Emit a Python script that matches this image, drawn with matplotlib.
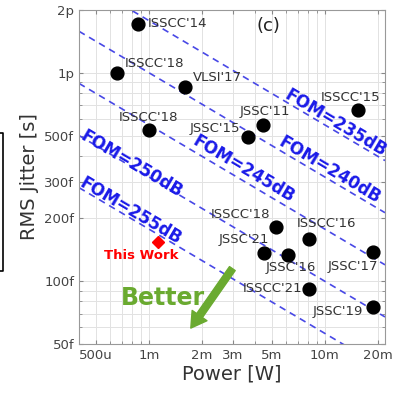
import numpy as np
import matplotlib
matplotlib.use("Agg")
import matplotlib.pyplot as plt
from matplotlib.ticker import NullFormatter, LogLocator
from matplotlib.lines import Line2D

# prior work: label, power [W], rms jitter [s]
names = ["ISSCC'14", "ISSCC'18", "VLSI'17", "ISSCC'18", "JSSC'15", "JSSC'11", "ISSCC'15",
         "ISSCC'18", "ISSCC'16", "JSSC'21", "JSSC'16", "JSSC'17", "ISSCC'21", "JSSC'19"]
power = [0.87e-3, 0.66e-3, 1.6e-3, 1.0e-3, 3.67e-3, 4.47e-3, 15.4e-3,
         5.3e-3, 8.1e-3, 4.5e-3, 6.2e-3, 18.7e-3, 8.1e-3, 18.7e-3]
jitter = [1.72e-12, 1.0e-12, 0.857e-12, 0.534e-12, 0.494e-12, 0.564e-12, 0.665e-12,
          183e-15, 159e-15, 136e-15, 133e-15, 138e-15, 91.6e-15, 75e-15]
# label offsets in pixels and alignment
offs = [(9, 0, "left"), (8, 9, "left"), (8, 9, "left"), (0, 12, "center"), (-8, 8, "right"),
        (2, 13, "center"), (-7, 12, "center"), (-6, 12, "right"), (18, 16, "center"),
        (-20, 14, "center"), (3, -12, "center"), (-20, -14, "center"), (-6, 1, "right"),
        (-10, -4, "right")]

this_power = 1.12e-3
this_jitter = 155e-15

fom_levels = [235, 240, 245, 250, 255]
fom_text_pos = [(11.5e-3, 5.76e-13), (10.7e-3, 3.40e-13), (3.44e-3, 3.47e-13),
                (0.80e-3, 3.65e-13), (0.79e-3, 2.17e-13)]

xticks = [500e-6, 1e-3, 2e-3, 3e-3, 5e-3, 10e-3, 20e-3]
xlabels = ["500u", "1m", "2m", "3m", "5m", "10m", "20m"]
yticks = [50e-15, 100e-15, 200e-15, 300e-15, 500e-15, 1e-12, 2e-12]
ylabels = ["50f", "100f", "200f", "300f", "500f", "1p", "2p"]

xlim = (0.4e-3, 22e-3)
ylim = (50e-15, 2e-12)

fig = plt.figure(figsize=(3.93, 3.93), dpi=100)
ax = fig.add_axes([79/393, 1-344/393, (385-79)/393, (344-10)/393])
ax.set_xscale("log")
ax.set_yscale("log")
ax.set_xlim(*xlim)
ax.set_ylim(*ylim)

ax.xaxis.set_minor_locator(LogLocator(base=10, subs=np.arange(2, 10)))
ax.yaxis.set_minor_locator(LogLocator(base=10, subs=np.arange(2, 10)))
ax.set_xticks(xticks)
ax.set_xticklabels(xlabels)
ax.set_yticks(yticks)
ax.set_yticklabels(ylabels)
ax.xaxis.set_minor_formatter(NullFormatter())
ax.yaxis.set_minor_formatter(NullFormatter())
ax.tick_params(which="both", direction="in", colors="#888888", labelcolor="#444444",
               labelsize=9.5, length=3, top=True, right=True)
ax.tick_params(which="minor", length=2)
ax.grid(which="both", color="#e2e2e2", lw=0.7)
ax.set_axisbelow(True)
for s in ax.spines.values():
    s.set_color("#999999")

# FOM lines
pp = np.logspace(np.log10(xlim[0]), np.log10(xlim[1]), 50)
ang = -np.degrees(np.arctan(0.5 * (334 / np.log10(ylim[1] / ylim[0])) / (306 / np.log10(xlim[1] / xlim[0]))))
for fom, (tx, ty) in zip(fom_levels, fom_text_pos):
    jj = np.sqrt(10 ** (-fom / 10) / (pp / 1e-3))
    ax.plot(pp, jj, color="#4848e6", lw=1.2, ls=(0, (4, 3)), zorder=2)
    ax.text(tx, ty, "FOM=%ddB" % fom, color="#1a1ae8", fontsize=12, fontweight="bold",
            rotation=ang, ha="center", va="center", rotation_mode="anchor", zorder=4)

ax.scatter(power, jitter, s=85, color="black", zorder=5)
for n, p, j, (dx, dy, ha) in zip(names, power, jitter, offs):
    ax.annotate(n, (p, j), xytext=(dx, dy), textcoords="offset pixels", ha=ha, va="center",
                fontsize=9.5, color="#333333", zorder=6)

ax.plot(this_power, this_jitter, marker="D", color="red", ms=6.5, ls="none", zorder=5)
ax.text(0.90e-3, 133e-15, "This Work", color="red", fontsize=9.5, fontweight="bold",
        ha="center", va="center")

# better arrow
ax.annotate("", xy=(1.73e-3, 59.6e-15), xytext=(2.98e-3, 115e-15),
            arrowprops=dict(color="#6aaa30", width=5, headwidth=13, headlength=11, shrink=0))
ax.text(1.2e-3, 83e-15, "Better", color="#6aaa30", fontsize=17, fontweight="bold",
        ha="center", va="center")

ax.text(4.8e-3, 1.68e-12, "(c)", fontsize=13, color="#222222", ha="center", va="center")

ax.set_xlabel("Power [W]", fontsize=14, color="#333333", labelpad=2)
ax.set_ylabel("RMS Jitter [s]", fontsize=14, color="#333333", labelpad=4)

# fragment of neighbouring frame
fig.add_artist(Line2D([0, 3/393, 3/393, 0], [1-133/393, 1-133/393, 1-271/393, 1-271/393],
                      color="black", lw=1.2))

fig.savefig("out.png", dpi=100)
